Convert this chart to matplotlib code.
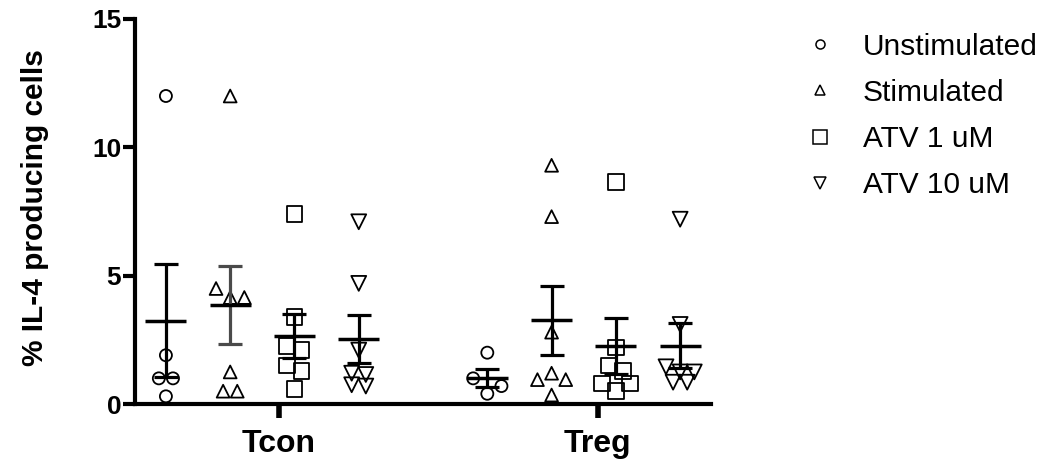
import numpy as np
import matplotlib
matplotlib.use("Agg")
import matplotlib.pyplot as plt
from matplotlib.lines import Line2D

plt.rcParams['font.family'] = ['Liberation Sans', 'DejaVu Sans']

# values (% IL-4 producing cells)
cell_types = ['Tcon', 'Treg']
conditions = ['Unstimulated', 'Stimulated', 'ATV 1 uM', 'ATV 10 uM']
markers = ['o', '^', 's', 'v']

tcon_unstim = [12.0, 1.9, 1.0, 1.0, 0.3]
tcon_stim = [12.0, 4.5, 4.15, 4.15, 1.25, 0.5, 0.5]
tcon_atv1 = [7.4, 3.4, 2.25, 2.1, 1.5, 1.3, 0.6]
tcon_atv10 = [7.1, 4.7, 2.1, 1.2, 1.15, 0.75, 0.7]

treg_unstim = [2.0, 1.0, 0.4, 0.7]
treg_stim = [9.3, 7.3, 2.8, 0.95, 1.2, 0.95, 0.35]
treg_atv1 = [8.65, 2.2, 1.5, 1.3, 0.8, 0.5, 0.8]
treg_atv10 = [7.2, 3.1, 1.45, 1.25, 1.25, 0.85, 0.85]

groups = [[tcon_unstim, tcon_stim, tcon_atv1, tcon_atv10],
          [treg_unstim, treg_stim, treg_atv1, treg_atv10]]

# marker area in the plot and marker size in the legend
point_size = {'o': 75, '^': 85, 's': 130, 'v': 115}
legend_size = {'o': 6.5, '^': 7.5, 's': 9.5, 'v': 8.5}


def spread(vals, thr=0.38, step=0.22):
    # simple scatter-dot spreading of points with nearly equal values
    vals = np.asarray(vals, dtype=float)
    order = np.argsort(-vals, kind='stable')
    clusters, cur = [], [order[0]]
    for a, b in zip(order[:-1], order[1:]):
        if vals[a] - vals[b] < thr:
            cur.append(b)
        else:
            clusters.append(cur)
            cur = [b]
    clusters.append(cur)
    off = np.zeros(len(vals))
    for c in clusters:
        c = sorted(c)
        n = len(c)
        for k, i in enumerate(c):
            off[i] = (k - (n - 1) / 2) * step
    return off


fig = plt.figure(figsize=(10.51, 4.62), dpi=100)
ax = fig.add_axes([0.1285, 0.1255, 0.548, 0.8334])

for g, sets in enumerate(groups):
    for j, vals in enumerate(sets):
        x0 = g * 5 + j
        vals = np.asarray(vals)
        mk = markers[j]
        ax.scatter(x0 + spread(vals), vals, marker=mk, s=point_size[mk],
                   facecolors='none', edgecolors='black', linewidths=1.3, zorder=2)
        m = vals.mean()
        sem = vals.std(ddof=1) / np.sqrt(len(vals))
        col = '#4a4a4a' if (g == 0 and j == 1) else 'black'
        ax.errorbar(x0, m, yerr=sem, fmt='none', ecolor=col, elinewidth=2.3,
                    capsize=8.3, capthick=2.3, zorder=3)
        ax.hlines(m, x0 - 0.32, x0 + 0.32, colors='black', linewidth=2.5, zorder=4)

ax.set_xlim(-0.48, 8.48)
ax.set_ylim(0, 15)
ax.set_yticks([0, 5, 10, 15])
ax.set_xticks([1.76, 6.72])
ax.set_xticklabels(cell_types, fontsize=23, fontweight='bold')
ax.tick_params(axis='y', labelsize=19, width=3, length=9, pad=1)
ax.tick_params(axis='x', width=4, length=10, pad=8)
for lab in ax.get_yticklabels():
    lab.set_fontweight('bold')
for s in ['top', 'right']:
    ax.spines[s].set_visible(False)
for s in ['left', 'bottom']:
    ax.spines[s].set_linewidth(3)
ax.set_ylabel('% IL-4 producing cells', fontsize=21.5, fontweight='bold')
ax.yaxis.set_label_coords(-0.15, 0.51)

handles = [Line2D([], [], linestyle='none', marker=mk, markersize=legend_size[mk],
                  markerfacecolor='none', markeredgecolor='black', markeredgewidth=1.1)
           for mk in markers]
fig.legend(handles, conditions, loc='upper left', bbox_to_anchor=(0.7545, 0.955),
           frameon=False, fontsize=21.5, handlelength=1.0, handletextpad=0.94,
           labelspacing=0.61, borderaxespad=0)

fig.savefig('out.png', dpi=100)
